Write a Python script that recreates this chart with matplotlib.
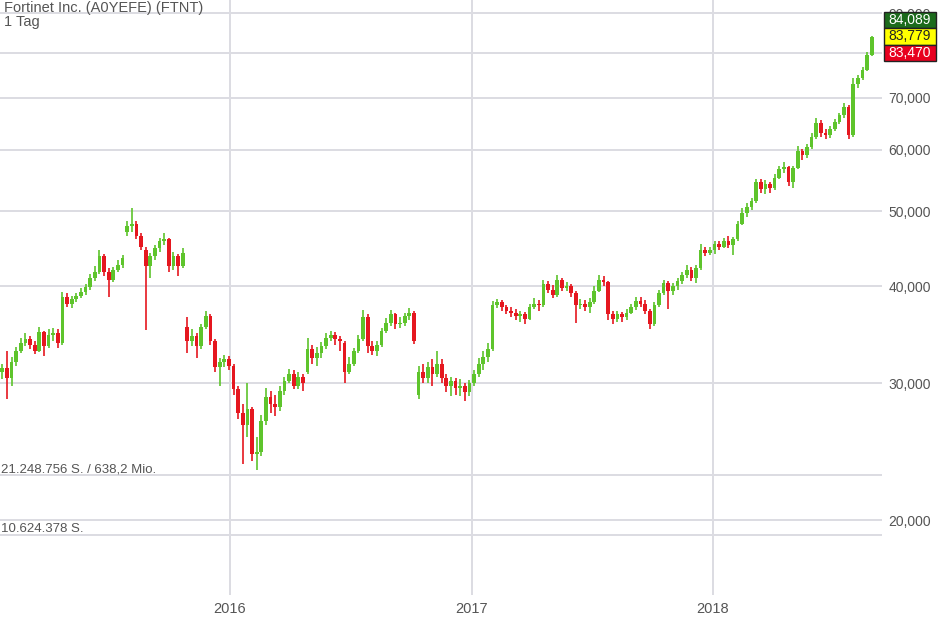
import matplotlib
matplotlib.use('Agg')
import matplotlib.pyplot as plt
import matplotlib.dates as mdates
from matplotlib.patches import Rectangle
from matplotlib.ticker import FixedLocator, FixedFormatter, NullLocator
import numpy as np
import pandas as pd

plt.rcParams['font.family'] = ['Liberation Sans', 'DejaVu Sans']

# ---------------- data ----------------
title = 'Fortinet Inc. (A0YEFE) (FTNT)'
interval_label = '1 Tag'
first_week = '2015-01-19'

opens = [
    31.0, 31.4, 30.5, 32.0, 33.0, 33.8, 34.2, 33.6, 33.0, 34.9,
    33.5, 34.6, 34.8, 33.8, 38.8, 38.0, 38.5, 38.9, 39.3, 39.9,
    41.0, 41.8, 43.8, 41.8, 40.8, 42.0, 42.6, 47.0, 47.8, 48.2,
    46.5, 44.5, 42.5, 43.8, 44.8, 45.7, 46.0, 42.5, 43.8, 42.5,
    35.5, 34.0, 34.5, 33.5, 35.5, 36.6, 34.0, 31.5, 32.0, 32.2,
    31.6, 29.5, 27.5, 26.5, 27.8, 24.3, 24.5, 26.8, 28.8, 28.2,
    28.0, 29.3, 30.2, 30.8, 29.8, 30.6, 31.0, 33.2, 32.3, 32.8,
    33.5, 34.3, 34.6, 34.2, 33.8, 31.0, 31.8, 33.0, 34.2, 36.5,
    33.5, 33.0, 33.6, 35.0, 35.9, 36.8, 35.8, 35.9, 36.6, 37.0,
    29.0, 31.0, 30.5, 31.5, 30.8, 31.8, 30.5, 29.8, 30.2, 29.6,
    29.8, 29.2, 30.0, 30.8, 31.8, 32.4, 33.2, 37.8, 38.2, 37.6,
    37.2, 37.0, 36.6, 36.8, 36.3, 37.6, 38.0, 37.8, 40.3, 39.6,
    39.0, 40.8, 39.8, 40.0, 39.2, 37.8, 38.0, 37.6, 38.2, 39.5,
    40.8, 40.5, 36.8, 36.3, 36.8, 36.5, 37.0, 37.6, 38.3, 38.0,
    37.2, 35.8, 37.8, 39.2, 40.4, 39.5, 40.0, 40.6, 41.4, 42.0,
    41.0, 42.2, 44.6, 44.2, 44.6, 45.3, 45.0, 45.8, 45.2, 46.0,
    48.2, 49.8, 50.6, 51.5, 54.5, 53.4, 54.2, 53.5, 55.2, 56.6,
    57.0, 54.5, 56.8, 59.8, 59.0, 60.5, 62.4, 65.0, 63.0, 62.6,
    63.8, 65.2, 66.5, 68.2, 62.6, 73.0, 74.2, 76.0, 79.5,
]
closes = [
    31.4, 30.5, 32.0, 33.0, 33.8, 34.2, 33.6, 33.0, 34.9, 33.5,
    34.6, 34.8, 33.8, 38.8, 38.0, 38.5, 38.9, 39.3, 39.9, 41.0,
    41.8, 43.8, 41.8, 40.8, 42.0, 42.6, 43.5, 47.8, 48.2, 46.5,
    44.9, 42.5, 43.8, 44.8, 45.7, 46.0, 42.5, 43.8, 42.5, 44.2,
    34.0, 34.5, 33.5, 35.5, 36.6, 34.0, 31.5, 32.0, 32.2, 31.6,
    29.5, 27.5, 26.5, 27.8, 24.3, 24.5, 26.8, 28.8, 28.2, 28.0,
    29.3, 30.2, 30.8, 29.8, 30.6, 30.0, 33.2, 32.3, 32.8, 33.5,
    34.3, 34.6, 34.2, 34.0, 31.0, 31.8, 33.0, 34.2, 36.5, 33.5,
    33.0, 33.6, 35.0, 35.9, 36.8, 35.8, 35.9, 36.6, 37.0, 34.0,
    31.0, 30.5, 31.5, 30.8, 31.8, 30.5, 29.8, 30.2, 29.6, 29.8,
    29.2, 30.0, 30.8, 31.8, 32.4, 33.2, 37.8, 38.2, 37.6, 37.2,
    37.0, 36.6, 36.8, 36.3, 37.6, 38.0, 37.8, 40.3, 39.6, 39.0,
    40.8, 39.8, 40.0, 39.2, 37.8, 38.0, 37.6, 38.2, 39.5, 40.8,
    40.5, 36.8, 36.3, 36.8, 36.5, 37.0, 37.6, 38.3, 38.0, 37.2,
    35.8, 37.8, 39.2, 40.4, 39.5, 40.0, 40.6, 41.4, 42.0, 41.0,
    42.2, 44.6, 44.2, 44.6, 45.3, 45.0, 45.8, 45.2, 46.0, 48.2,
    49.8, 50.6, 51.5, 54.5, 53.4, 54.2, 53.5, 55.2, 56.6, 57.0,
    54.5, 56.8, 59.8, 59.0, 60.5, 62.4, 65.0, 63.0, 62.6, 63.8,
    65.2, 66.5, 68.2, 62.6, 73.0, 74.2, 76.0, 79.5, 83.8,
]
highs = [
    31.8, 33.0, 32.4, 33.4, 34.3, 34.8, 34.5, 34.0, 35.5, 35.0,
    35.2, 35.4, 35.2, 39.3, 39.2, 38.9, 39.2, 39.8, 40.3, 41.5,
    42.5, 44.6, 44.0, 42.3, 42.4, 43.2, 43.9, 48.6, 50.5, 48.6,
    46.8, 45.0, 44.2, 45.2, 46.2, 46.8, 46.2, 44.3, 44.0, 44.8,
    36.5, 35.2, 34.8, 35.8, 37.2, 36.8, 34.2, 32.3, 32.6, 32.5,
    31.8, 29.8, 28.2, 30.0, 28.0, 25.6, 27.3, 29.6, 29.3, 29.0,
    29.8, 30.6, 31.3, 31.2, 31.0, 30.8, 34.3, 33.6, 33.4, 33.9,
    34.8, 35.0, 34.9, 34.5, 34.0, 32.4, 33.3, 34.6, 37.3, 36.8,
    34.0, 34.0, 35.4, 36.4, 37.3, 37.0, 36.5, 37.0, 37.5, 37.2,
    31.6, 31.8, 32.0, 32.2, 33.0, 32.2, 30.8, 30.6, 30.5, 30.4,
    30.0, 30.3, 31.2, 32.3, 33.0, 33.8, 38.3, 38.5, 38.4, 37.9,
    37.6, 37.4, 37.2, 37.1, 38.0, 38.6, 38.4, 40.8, 40.6, 40.2,
    41.4, 41.0, 40.5, 40.3, 39.4, 38.5, 38.4, 38.6, 40.0, 41.4,
    41.2, 40.6, 37.2, 37.2, 37.1, 37.4, 38.0, 38.8, 38.8, 38.4,
    37.4, 38.2, 39.6, 40.8, 40.6, 40.4, 41.0, 41.8, 42.6, 42.4,
    42.6, 45.3, 45.0, 45.0, 45.8, 45.8, 46.2, 46.5, 46.3, 48.6,
    50.4, 51.2, 52.0, 55.0, 55.0, 54.8, 54.6, 55.8, 57.2, 57.8,
    57.2, 57.2, 60.6, 60.2, 61.0, 63.0, 66.0, 65.5, 63.8, 64.3,
    65.8, 67.0, 69.0, 68.6, 74.2, 75.0, 76.6, 80.2, 84.1,
]
lows = [
    30.4, 28.6, 29.8, 31.6, 32.8, 33.5, 33.2, 32.7, 32.9, 32.5,
    33.3, 34.0, 33.3, 33.6, 37.6, 37.5, 38.2, 38.6, 39.0, 39.6,
    40.6, 41.5, 41.3, 38.8, 40.5, 41.8, 42.3, 46.5, 47.0, 46.0,
    44.5, 35.1, 41.0, 43.3, 44.3, 45.2, 41.8, 42.0, 41.3, 42.2,
    32.8, 33.5, 32.3, 33.2, 35.2, 33.6, 31.0, 29.8, 31.5, 31.2,
    29.0, 27.0, 23.6, 25.6, 23.8, 23.2, 24.2, 26.5, 27.5, 27.2,
    27.6, 29.0, 30.0, 29.5, 29.5, 29.3, 30.8, 31.8, 31.6, 32.3,
    33.2, 34.0, 33.6, 33.0, 30.0, 30.8, 31.6, 32.8, 34.0, 32.8,
    32.6, 32.5, 33.4, 34.8, 35.6, 35.3, 35.4, 35.6, 36.2, 33.7,
    28.6, 30.0, 30.0, 29.8, 30.6, 30.0, 29.2, 28.9, 29.0, 28.9,
    28.5, 28.9, 29.8, 30.6, 31.2, 32.0, 33.0, 37.5, 37.2, 36.8,
    36.5, 36.2, 36.0, 35.8, 36.2, 37.4, 37.2, 37.6, 39.2, 38.6,
    38.8, 39.4, 39.5, 38.8, 35.9, 37.4, 37.2, 37.0, 38.0, 39.3,
    40.0, 36.2, 35.8, 36.0, 36.0, 36.2, 36.8, 37.3, 37.6, 36.8,
    35.3, 35.6, 37.6, 39.0, 37.4, 39.0, 39.6, 40.3, 41.0, 40.6,
    40.4, 42.0, 43.8, 43.9, 44.0, 44.6, 44.8, 44.8, 43.9, 45.8,
    48.0, 49.2, 50.2, 51.3, 52.8, 52.6, 52.8, 53.2, 55.0, 56.0,
    53.8, 53.5, 56.6, 58.2, 58.6, 60.2, 62.0, 62.4, 62.0, 62.2,
    63.5, 64.8, 66.0, 62.0, 62.3, 72.0, 73.8, 75.8, 79.2,
]

price_ticks = [20, 30, 40, 50, 60, 70, 80, 90]
year_ticks = ['2016', '2017', '2018']
volume_levels = [21248756, 10624378]
volume_labels = ['21.248.756 S. / 638,2 Mio.', '10.624.378 S.']
quote_values = [84.089, 83.779, 83.470]

# ---------------- styling ----------------
W, H = 941, 620
GREEN = '#5ec42c'
RED = '#e5171f'
GRID = '#dcdce2'
TXT = '#555555'

fig = plt.figure(figsize=(W / 100, H / 100), dpi=100)
fig.patch.set_facecolor('white')

ax_rect = [0, 1 - 595 / H, 882 / W, 595 / H]
ax = fig.add_axes(ax_rect)
ax.set_yscale('log')
ax.set_ylim(16.01, 93.56)
ax.set_xlim(mdates.date2num(pd.Timestamp('2015-01-18')),
            mdates.date2num(pd.Timestamp('2018-09-14')))

n = min(len(opens), len(closes), len(highs), len(lows))
o = np.array(opens[:n]); c = np.array(closes[:n])
h = np.array(highs[:n]); l = np.array(lows[:n])
dates = pd.date_range(first_week, periods=n, freq='7D') + pd.Timedelta(hours=60)
x = mdates.date2num(dates)
cols = np.where(c >= o, GREEN, RED)

ax.vlines(x, l, h, colors=cols, linewidth=1.2, zorder=3)
bottoms = np.minimum(o, c)
heights = np.maximum(np.abs(c - o), 0.08)
ax.bar(x, heights, bottom=bottoms, width=5.6, color=cols, linewidth=0, zorder=4)

# grid & ticks
ax.yaxis.set_major_locator(FixedLocator(price_ticks))
ax.yaxis.set_major_formatter(FixedFormatter([f'{v:.3f}'.replace('.', ',') for v in price_ticks]))
ax.yaxis.set_minor_locator(NullLocator())
ax.yaxis.set_minor_formatter(plt.NullFormatter())
ax.yaxis.tick_right()
ax.set_xticks([mdates.date2num(pd.Timestamp(f'{y}-01-01')) for y in year_ticks])
ax.set_xticklabels(year_ticks)
ax.tick_params(axis='y', length=0, pad=4.5, labelsize=10, labelcolor=TXT)
ax.tick_params(axis='x', length=0, pad=5, labelsize=10.5, labelcolor=TXT)
ax.grid(True, color=GRID, linewidth=1.4)
ax.set_axisbelow(True)
for s in ax.spines.values():
    s.set_visible(False)

# volume pane scale (gridlines only)
axv = fig.add_axes(ax_rect, frameon=False)
axv.set_ylim(0, volume_levels[0] * 595 / 120)
axv.set_xlim(0, 1)
axv.set_xticks([]); axv.set_yticks([])
axv.patch.set_alpha(0)
for lvl, lab in zip(volume_levels, volume_labels):
    axv.axhline(lvl, color=GRID, linewidth=1.4, zorder=1)
    axv.text(0.001, lvl, lab, fontsize=9.5, color=TXT, va='bottom', ha='left')

# title
fig.text(4 / W, 1 - 1 / H, title, fontsize=10.5, color=TXT, va='top', ha='left')
fig.text(4 / W, 1 - 15 / H, interval_label, fontsize=10.5, color=TXT, va='top', ha='left')

# quote boxes
box_styles = [('#1c6b1c', 'white'), ('#ffff00', '#222222'), ('#e8001f', 'white')]
bx0, bx1 = 884, 936
by = [11.5, 28.2, 44.6, 61.3]
for i, (v, (bg, fg)) in enumerate(zip(quote_values, box_styles)):
    y0, y1 = by[i], by[i + 1]
    fig.add_artist(Rectangle((bx0 / W, 1 - y1 / H), (bx1 - bx0) / W, (y1 - y0) / H,
                             transform=fig.transFigure, facecolor=bg,
                             edgecolor='#222222', linewidth=1, zorder=10))
    fig.text((bx0 + bx1) / 2 / W, 1 - (y0 + y1) / 2 / H,
             f'{v:.3f}'.replace('.', ','), fontsize=10, color=fg,
             ha='center', va='center', zorder=11)

fig.savefig('out.png', dpi=100, facecolor='white')
